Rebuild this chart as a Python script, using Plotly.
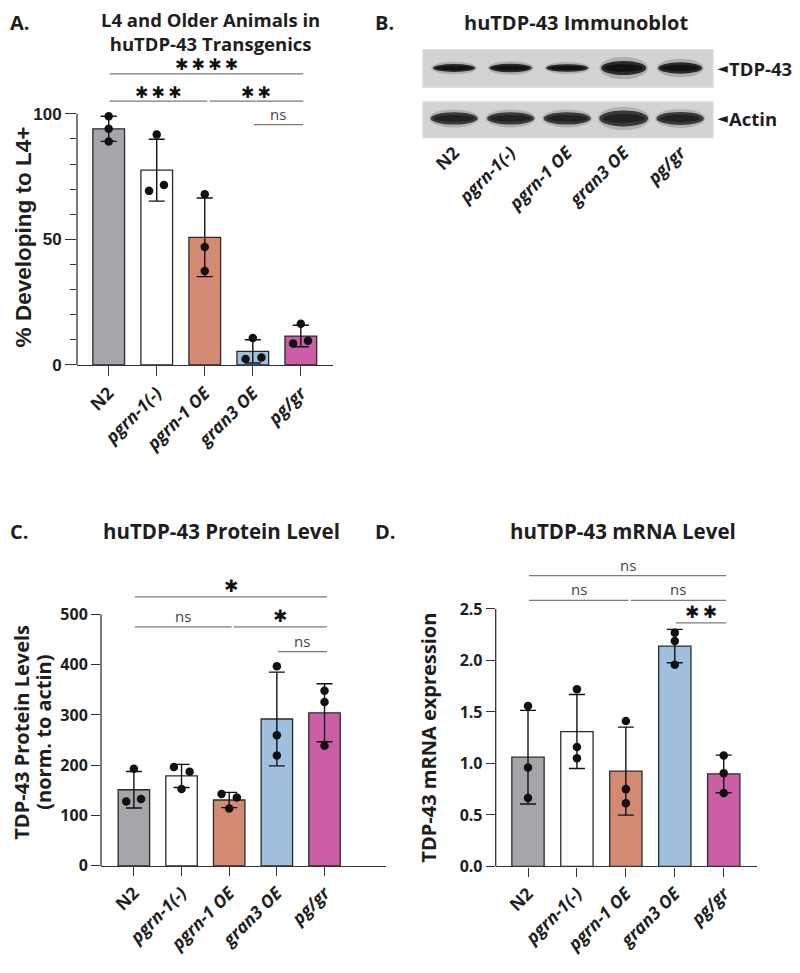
import numpy as np
import plotly.graph_objects as go

# ---------------- data ----------------
groups = ["N2", "pgrn-1(-)", "pgrn-1 OE", "gran3 OE", "pg/gr"]
group_ticktext = ["<b>N2</b>", "<b><i>pgrn-1(-)</i></b>", "<b><i>pgrn-1 OE</i></b>",
                  "<b><i>gran3 OE</i></b>", "<b><i>pg/gr</i></b>"]
colors = ["#a6a6aa", "#ffffff", "#d48a72", "#a0c0e0", "#cc5ea6"]

# Panel A: % developing to L4+ (3 replicates each)
a_points = [[99, 94, 89], [91.7, 69.3, 71.6], [68, 47, 37.4], [10.7, 2.4, 3.0], [16.4, 8.5, 9.6]]
a_jitter = [[0, 0, 0], [0, -0.16, 0.15], [0, 0, 0], [0, -0.15, 0.18], [0, -0.16, 0.15]]
a_ticks = [0, 50, 100]
a_minor = [10, 20, 30, 40, 60, 70, 80, 90]
a_sig = [(0, 4, "****", 115.9), (0, 2, "***", 105), (2, 4, "**", 105), (3, 4, "ns", 95.7)]

# Panel B: immunoblot relative band signal
tdp_signal = [1.0, 1.05, 0.95, 1.75, 1.45]
actin_signal = [1.0, 1.0, 1.0, 1.3, 1.05]

# Panel C: TDP-43 protein levels (norm. to actin)
c_points = [[193, 128, 133], [196.5, 187, 153], [143, 136, 114], [397, 259.5, 219.5], [348, 326, 239]]
c_jitter = [[0, -0.16, 0.15], [-0.16, 0.17, 0], [-0.16, 0.16, 0], [0, 0, 0], [0, 0, 0]]
c_ticks = [0, 100, 200, 300, 400, 500]
c_sig = [(0, 4, "*", 534.6), (0, 2, "ns", 475), (2, 4, "*", 475), (3, 4, "ns", 426)]

# Panel D: TDP-43 mRNA expression
d_points = [[1.557, 0.96, 0.665], [1.72, 1.16, 1.05], [1.413, 0.751, 0.614], [2.27, 2.19, 1.958], [1.078, 0.905, 0.713]]
d_jitter = [[0, 0, 0]] * 5
d_ticks = [0.0, 0.5, 1.0, 1.5, 2.0, 2.5]
d_sig = [(0, 4, "ns", 2.824), (0, 2, "ns", 2.584), (2, 4, "ns", 2.584), (3, 4, "**", 2.364)]

# ---------------- helpers ----------------
W, H = 800, 973
TXT = "#1e1e1e"
AX = "#333333"
SIG = "#7a7a7a"


def xdom(a, b):
    return [a / W, b / W]


def ydom(top, bottom):
    return [1 - bottom / H, 1 - top / H]


fig = go.Figure()
shapes = []
annotations = []


def bar_panel(xa, ya, points, jitter, sig, ymax_axis, star_px, star_shift):
    xs = list(range(len(groups)))
    means = [float(np.mean(p)) for p in points]
    sds = [float(np.std(p, ddof=1)) for p in points]
    fig.add_trace(go.Bar(
        x=xs, y=means, width=0.66, xaxis=xa, yaxis=ya,
        marker=dict(color=colors, line=dict(color="#2a2a2a", width=1.3)),
        error_y=dict(type="data", array=sds, visible=True, color="#111111", thickness=1.4, width=8),
        hoverinfo="skip"))
    px_, py_ = [], []
    for i, (pts, jit) in enumerate(zip(points, jitter)):
        for v, j in zip(pts, jit):
            px_.append(i + j)
            py_.append(v)
    fig.add_trace(go.Scatter(x=px_, y=py_, mode="markers", xaxis=xa, yaxis=ya,
                             marker=dict(color="#111111", size=8.5), hoverinfo="skip", cliponaxis=False))
    xr, yr = xa, ya
    # y axis line only up to the last tick
    shapes.append(dict(type="line", xref=xr + " domain", yref=yr, x0=0, x1=0, y0=0, y1=ymax_axis,
                       line=dict(color=AX, width=1.3)))
    for (i, j, lab, lvl) in sig:
        x0 = i + (0.1 if any(k[1] == i and k[3] == lvl for k in sig) else 0.02)
        x1 = j + 0.05
        shapes.append(dict(type="line", xref=xr, yref=yr, x0=x0, x1=x1, y0=lvl, y1=lvl,
                           line=dict(color=SIG, width=1.2)))
        if lab == "ns":
            annotations.append(dict(xref=xr, yref=yr, x=(x0 + x1) / 2, y=lvl, text="ns",
                                    showarrow=False, yanchor="bottom", yshift=-1,
                                    font=dict(family="Open Sans", size=15, color="#444444")))
        else:
            annotations.append(dict(xref=xr, yref=yr, x=(x0 + x1) / 2, y=lvl,
                                    text="\u2009".join(["\u2731"] * len(lab)),
                                    showarrow=False, yanchor="bottom", yshift=star_shift,
                                    font=dict(family="DejaVu Sans", size=star_px, color="#111111")))


bar_panel("x", "y", a_points, a_jitter, a_sig, 100, 16, -2.5)
bar_panel("x3", "y3", c_points, c_jitter, c_sig, 500, 17, -1)
bar_panel("x4", "y4", d_points, d_jitter, d_sig, 2.5, 17, -1)

# ---------------- immunoblot (panel B) ----------------
fig.add_trace(go.Scatter(x=list(range(5)), y=[45] * 5, xaxis="x2", yaxis="y2", mode="markers",
                         marker=dict(opacity=0), hoverinfo="skip"))
for (y0, y1) in [(0, 38.5), (53, 90)]:
    shapes.append(dict(type="rect", xref="x2 domain", yref="y2", x0=0, x1=1, y0=y0, y1=y1,
                       fillcolor="#d3d3d3", line=dict(color="#dedede", width=1.5), layer="below"))
lane_px = 56.5  # px per lane unit
for i, s in enumerate(tdp_signal):
    w = (42 + 4 * (s - 1)) / lane_px
    h = 8 * s
    yc = 19
    for sc_w, sc_h, col in [(1.08, 1.6, "rgba(90,90,90,0.3)"), (1.0, 1.0, "#2b2b2b"), (0.85, 0.55, "#121212")]:
        shapes.append(dict(type="circle", xref="x2", yref="y2",
                           x0=i - w * sc_w / 2, x1=i + w * sc_w / 2,
                           y0=yc - h * sc_h / 2, y1=yc + h * sc_h / 2,
                           fillcolor=col, line=dict(width=0)))
for i, s in enumerate(actin_signal):
    w = (47 + 6 * (s - 1)) / lane_px
    h = 12.5 * s
    yc = 70
    for sc_w, sc_h, col in [(1.06, 1.45, "rgba(100,100,100,0.3)"), (1.0, 1.0, "#3a3a3a"), (0.85, 0.55, "#222222")]:
        shapes.append(dict(type="circle", xref="x2", yref="y2",
                           x0=i - w * sc_w / 2, x1=i + w * sc_w / 2,
                           y0=yc - h * sc_h / 2, y1=yc + h * sc_h / 2,
                           fillcolor=col, line=dict(width=0)))
for lab, yc in [("TDP-43", 19), ("Actin", 70)]:
    annotations.append(dict(xref="x2 domain", yref="y2", x=1, y=yc, xshift=2, text="\u25C4",
                            showarrow=False, xanchor="left", yanchor="middle",
                            font=dict(family="DejaVu Sans", size=14, color=TXT)))
    annotations.append(dict(xref="x2 domain", yref="y2", x=1, y=yc, xshift=14, text="<b>%s</b>" % lab,
                            showarrow=False, xanchor="left", yanchor="middle",
                            font=dict(family="Open Sans", size=18.5, color=TXT)))

# ---------------- axes ----------------
common_x = dict(tickvals=list(range(5)), ticktext=group_ticktext, tickangle=-45,
                ticks="outside", tickwidth=1.3, tickcolor=AX, showline=True, linecolor=AX,
                linewidth=1.3, showgrid=False, zeroline=False,
                tickfont=dict(family="Open Sans", size=17.5, color=TXT))
common_y = dict(ticks="outside", tickwidth=1.3, tickcolor=AX, showline=False, showgrid=False,
                zeroline=False)

layout = dict(
    width=W, height=H, margin=dict(l=0, r=0, t=0, b=0), paper_bgcolor="white", plot_bgcolor="white",
    showlegend=False,
    xaxis=dict(domain=xdom(69, 325), range=[-0.66, 4.67], anchor="y", ticklen=10, **common_x),
    yaxis=dict(domain=ydom(45, 361), range=[0, 124.4], anchor="x", tickvals=a_ticks, ticklen=11,
               tickfont=dict(family="Liberation Sans", size=17, color=TXT, weight="bold"),
               minor=dict(tickvals=a_minor, ticklen=6, tickwidth=1.3, tickcolor=AX, ticks="outside"),
               **common_y),
    xaxis2=dict(domain=xdom(415, 705), range=[-0.55, 4.58], anchor="y2", tickvals=list(range(5)),
                ticktext=group_ticktext, tickangle=-45, ticks="", showline=False, showgrid=False,
                zeroline=False, tickfont=dict(family="Open Sans", size=17.5, color=TXT)),
    yaxis2=dict(domain=ydom(41.7, 131.7), range=[90, 0], anchor="x2", visible=False),
    xaxis3=dict(domain=xdom(93, 378), range=[-0.69, 5.29], anchor="y3", ticklen=9, **common_x),
    yaxis3=dict(domain=ydom(590, 867.7), range=[0, 545.8], anchor="x3", tickvals=c_ticks, ticklen=9,
                tickfont=dict(family="Open Sans", size=16, color=TXT, weight="bold"), **common_y),
    xaxis4=dict(domain=xdom(487.7, 749), range=[-0.66, 4.68], anchor="y4", ticklen=9, **common_x),
    yaxis4=dict(domain=ydom(565, 868.3), range=[0, 2.911], anchor="x4", tickvals=d_ticks, ticklen=9,
                tickformat=".1f",
                tickfont=dict(family="Open Sans", size=16, color=TXT, weight="bold"), **common_y),
)


def paper_text(xp, yp, text, size, family="Open Sans", angle=0, xanchor="center", color=TXT):
    annotations.append(dict(xref="paper", yref="paper", x=xp / W, y=1 - yp / H, text=text,
                            showarrow=False, textangle=angle, xanchor=xanchor, yanchor="middle",
                            font=dict(family=family, size=size, color=color)))


# panel letters & titles
paper_text(0, 15, "<b>A.</b>", 20, xanchor="left")
paper_text(365, 15, "<b>B.</b>", 20, xanchor="left")
paper_text(0, 529, "<b>C.</b>", 20, xanchor="left")
paper_text(365, 529, "<b>D.</b>", 20, xanchor="left")
paper_text(203, 23.5, "<b>L4 and Older Animals in<br>huTDP-43 Transgenics</b>", 18.5)
paper_text(568, 15, "<b>huTDP-43 Immunoblot</b>", 20)
paper_text(213, 529, "<b>huTDP-43 Protein Level</b>", 20.5)
paper_text(615, 529, "<b>huTDP-43 mRNA Level</b>", 20.5)
# y-axis titles
paper_text(15, 232, "<b>% Developing to L4+</b>", 22.5, family="Liberation Sans", angle=-90)
paper_text(14, 733, "<b>TDP-43 Protein Levels</b>", 20, angle=-90)
paper_text(36, 733, "<b>(norm. to actin)</b>", 20, angle=-90)
paper_text(421, 738, "<b>TDP-43 mRNA expression</b>", 20, angle=-90)

layout["shapes"] = shapes
layout["annotations"] = annotations
fig.update_layout(**layout)
fig.write_html("out.html")
